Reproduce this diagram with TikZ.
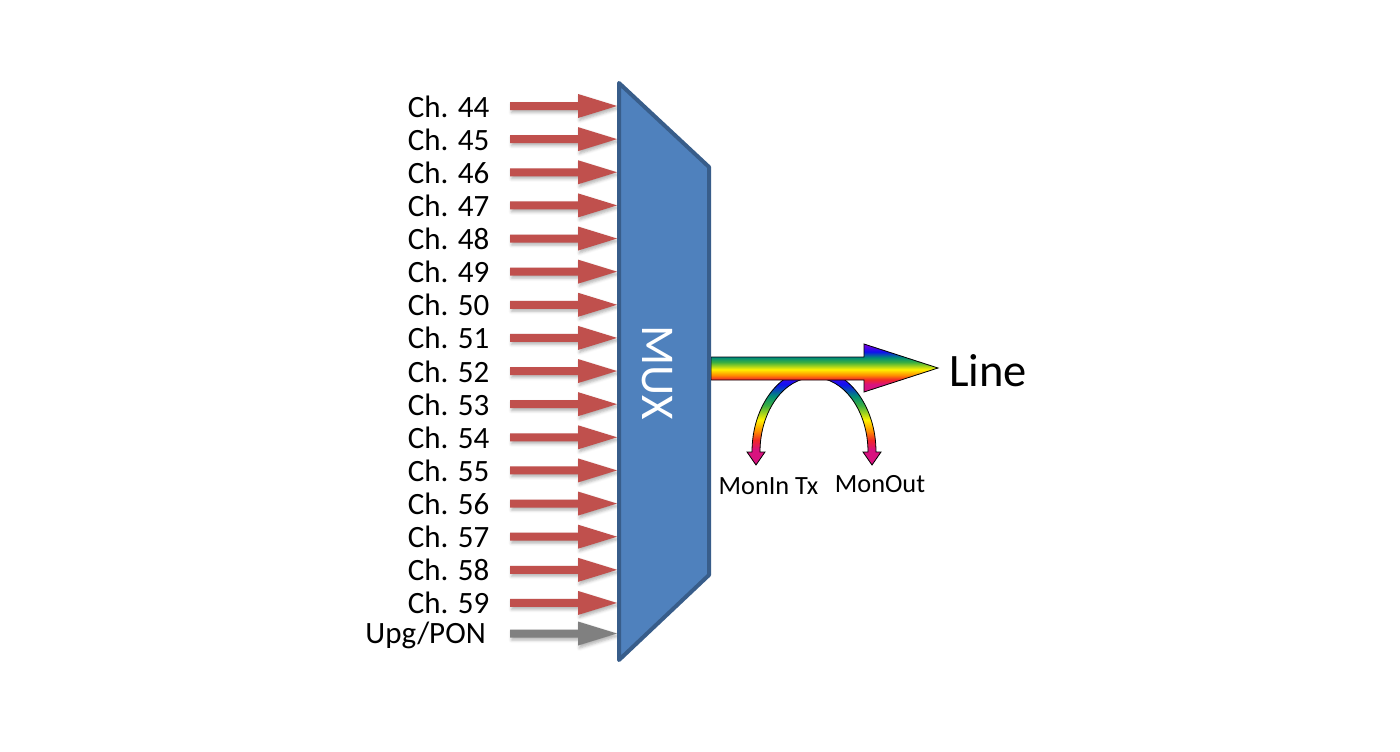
\documentclass[tikz,border=0pt]{standalone}
\usepackage{fontspec}
\setmainfont{Carlito}
\usetikzlibrary{shadows.blur}
\definecolor{chred}{HTML}{C0504D}
\definecolor{chgrey}{HTML}{808080}
\definecolor{muxfill}{HTML}{4F81BD}
\definecolor{muxline}{HTML}{385D8A}
\definecolor{rbmag}{HTML}{D8127F}
\definecolor{rbred}{HTML}{F02828}
\definecolor{rbora}{HTML}{FF8C00}
\definecolor{rbyel}{HTML}{FFF200}
\definecolor{rbgrn}{HTML}{3CB040}
\definecolor{rbteal}{HTML}{008C78}
\definecolor{rbblue}{HTML}{1010F0}
\definecolor{rbvio}{HTML}{8000E0}
\pgfdeclareverticalshading{rainbow}{100bp}{color(0bp)=(rbmag); color(25bp)=(rbmag); color(33bp)=(rbmag); color(38bp)=(rbred); color(42.5bp)=(rbora); color(48.5bp)=(rbyel); color(56bp)=(rbgrn); color(61bp)=(rbteal); color(67bp)=(rbblue); color(75bp)=(rbvio); color(100bp)=(rbvio)}
\begin{document}
\begin{tikzpicture}[x=1pt,y=-1pt,
  lbl/.style={inner sep=0pt, text=black, font=\fontsize{31}{31}\selectfont},
  monlbl/.style={inner sep=0pt, text=black, font=\fontsize{26.3}{26.3}\selectfont},
  arrshadow/.style={blur shadow={shadow xshift=1.5pt, shadow yshift=-2.5pt, shadow blur radius=3pt, shadow opacity=30}},
  rbow/.style={shading=rainbow, draw=black, line width=0.8pt, line join=miter}]
\useasboundingbox (0,0) rectangle (1400,752);

% input arrows and labels
\foreach \n [count=\i from 0] in {44,...,59} {
  \pgfmathsetmacro\yy{106+33.13*\i}
  \node[lbl, anchor=base east] (l\n) at (489.5,\yy+11) {Ch. \n};
  \coordinate (t\n) at (617,\yy);
  \fill[chred, arrshadow] (t\n) ++(-107,-4) -- ++(68,0) -- ++(0,-8) -- (t\n)
     -- ++(-39,12) -- ++(0,-8) -- ++(-68,0) -- cycle;
}
\node[lbl, anchor=base east] (lupg) at (486,643.5) {Upg/PON};
\coordinate (tupg) at (617,633.5);
\fill[chgrey, arrshadow] (tupg) ++(-107,-4) -- ++(68,0) -- ++(0,-8) -- (tupg)
   -- ++(-39,12) -- ++(0,-8) -- ++(-68,0) -- cycle;

% monitor arch
\coordinate (monin) at (756,465);
\coordinate (monout) at (872,465);
\shade[rbow] (752,452) arc[start angle=180, end angle=360, x radius=62, y radius=83]
   -- (881,452) -- (monout) -- (863,452) -- (868,452)
   arc[start angle=360, end angle=180, x radius=54, y radius=74.5]
   -- (765,452) -- (monin) -- (747,452) -- cycle;

% main rainbow arrow
\coordinate (lineS) at (711,368.5);
\coordinate (lineT) at (938,368);
\shade[rbow] (lineS) ++(0,-11.5) -- (864,357) -- (864,344) -- (lineT)
   -- (864,392) -- (864,380) -- (711,380) -- cycle;

% MUX
\path[fill=muxfill, draw=muxline, line width=4pt, line join=round]
   (619,83) -- (709,167) -- (709,575) -- (619,660) -- cycle;
\node[inner sep=0pt, text=white, rotate=-90, font=\fontsize{47}{47}\selectfont] (mux) at (657.5,372.5) {MUX};

% labels
\node[inner sep=0pt, text=black, anchor=base west, font=\fontsize{46.5}{46.5}\selectfont] (line) at (949,386) {Line};
\node[monlbl, anchor=base] (lmonin) at (768.5,494) {MonIn Tx};
\node[monlbl, anchor=base] (lmonout) at (880,492) {MonOut};
\end{tikzpicture}
\end{document}
